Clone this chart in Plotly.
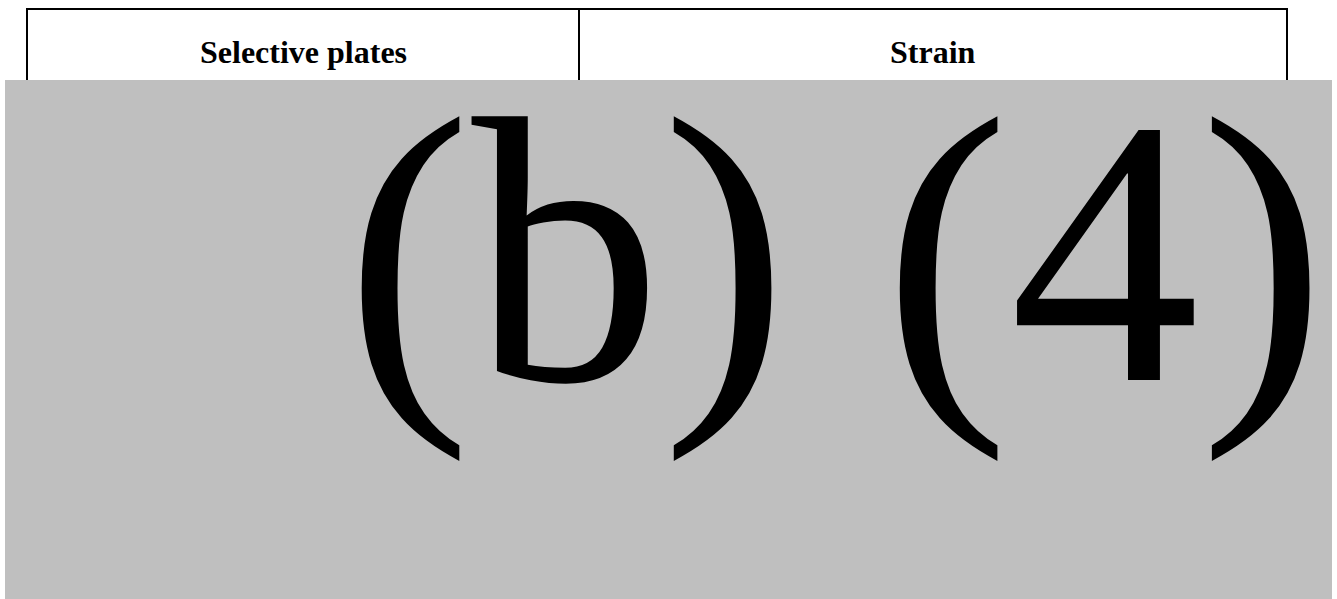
import plotly.graph_objects as go

# Table header labels and the redaction stamp text
headers = ["Selective plates", "Strain"]
redaction_label = "(b) (4)"

# Page geometry (pixels)
W, H = 1337, 599
col_edges = [27, 579, 1287]     # left border, divider, right border
table_top = 9
row_bottom = 80

fig = go.Figure()

# Table border lines
line = dict(color="black", width=2)
shapes = [dict(type="line", x0=col_edges[0] - 1, x1=col_edges[-1] + 1,
               y0=table_top, y1=table_top, line=line)]
for x in col_edges:
    shapes.append(dict(type="line", x0=x, x1=x, y0=table_top, y1=row_bottom, line=line))

# Gray redaction box
shapes.append(dict(type="rect", x0=5, x1=1332, y0=row_bottom, y1=H + 5,
                   fillcolor="#BFBFBF", line=dict(width=0)))

annotations = []
for i, label in enumerate(headers):
    annotations.append(dict(
        text="<b>%s</b>" % label,
        x=(col_edges[i] + col_edges[i + 1]) / 2, y=52,
        xref="x", yref="y", showarrow=False,
        xanchor="center", yanchor="middle",
        font=dict(family="Liberation Serif", size=32, color="black"),
    ))

annotations.append(dict(
    text=redaction_label,
    x=835, y=252,
    xref="x", yref="y", showarrow=False,
    xanchor="center", yanchor="middle",
    font=dict(family="Liberation Serif", size=380, color="black"),
))

fig.update_layout(
    width=W, height=H,
    margin=dict(l=0, r=0, t=0, b=0),
    paper_bgcolor="white",
    plot_bgcolor="white",
    showlegend=False,
    shapes=shapes,
    annotations=annotations,
    xaxis=dict(range=[0, W], visible=False, fixedrange=True),
    yaxis=dict(range=[H, 0], visible=False, fixedrange=True),
)

# drop the browser's default body margin so the figure sits at the page origin
fig.write_html("out.html", config={"displayModeBar": False},
               post_script="document.body.style.margin='0';")
